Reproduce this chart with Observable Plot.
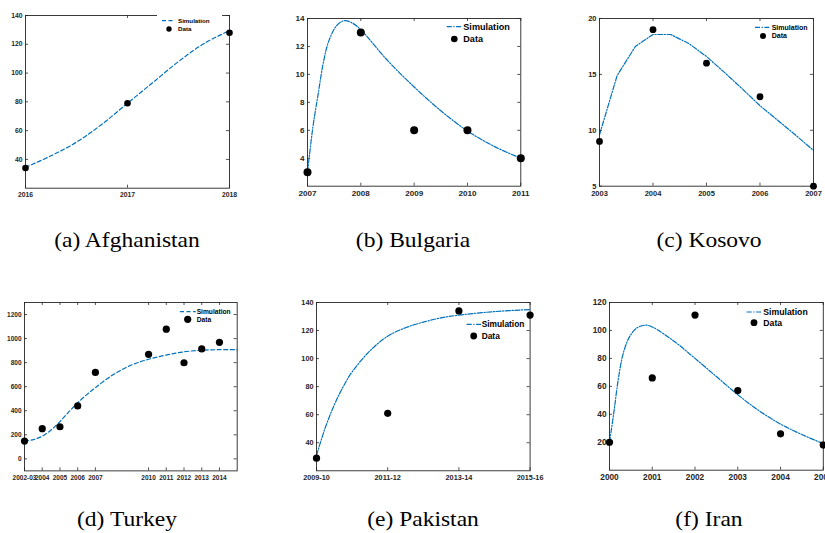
<!DOCTYPE html>
<html><head><meta charset="utf-8">
<script src="https://cdn.jsdelivr.net/npm/d3@7"></script>
<script src="https://cdn.jsdelivr.net/npm/@observablehq/plot@0.6"></script>
<style>
body{margin:0;background:#fff;overflow:hidden}
#root{position:relative;width:825px;height:533px;overflow:hidden;background:#fff}
.panel{position:absolute}
.cap{position:absolute;font-family:"Liberation Serif","Times New Roman",serif;font-size:21px;line-height:22px;white-space:nowrap;color:#000;transform:translateX(-50%) scaleX(1.12);}
.leg{position:absolute;left:0;top:0;overflow:visible}
</style></head><body><div id="root"></div>
<script>
// ---------- data ----------
const captions = ["(a) Afghanistan","(b) Bulgaria","(c) Kosovo","(d) Turkey","(e) Pakistan","(f) Iran"];

// (a) Afghanistan
const afgYears = [2016, 2017, 2018];
const afgData  = [34, 79, 128];
const afgSimT  = [2016, 2016.25, 2016.5, 2016.75, 2017, 2017.25, 2017.5, 2017.75, 2018];
const afgSimV  = [34.5, 42.5, 52, 64.5, 79, 93.5, 108, 120.5, 129.5];
const afgXTicks = [2016, 2017, 2018];
const afgYTicks = [40, 60, 80, 100, 120, 140];

// (b) Bulgaria
const bulYears = [2007, 2008, 2009, 2010, 2011];
const bulData  = [3, 13, 6, 6, 4];
const bulSimT  = [2007, 2007.1, 2007.2, 2007.3, 2007.4, 2007.55, 2007.7, 2007.85, 2008, 2008.5, 2009, 2009.5, 2010, 2010.5, 2011];
const bulSimV  = [3, 6.2, 8.6, 10.9, 12.4, 13.5, 13.85, 13.65, 13.2, 11.0, 9.1, 7.4, 5.95, 4.85, 4.0];
const bulXTicks = [2007, 2008, 2009, 2010, 2011];
const bulYTicks = [4, 6, 8, 10, 12, 14];

// (c) Kosovo
const kosYears = [2003, 2004, 2005, 2006, 2007];
const kosData  = [9, 19, 16, 13, 5];
const kosSimT  = [2003, 2003.33, 2003.67, 2004, 2004.33, 2004.67, 2005, 2005.33, 2005.67, 2006, 2006.33, 2006.67, 2007];
const kosSimV  = [9.6, 14.9, 17.5, 18.57, 18.57, 17.76, 16.6, 15.2, 13.7, 12.2, 10.9, 9.55, 8.2];
const kosXTicks = [2003, 2004, 2005, 2006, 2007];
const kosYTicks = [5, 10, 15, 20];

// (d) Turkey
const turYears = [2003, 2004, 2005, 2006, 2007, 2010, 2011, 2012, 2013, 2014];
const turData  = [148, 251, 267, 440, 719, 869, 1078, 799, 914, 969];
const turSimT  = [2003, 2003.5, 2004, 2004.5, 2005, 2005.5, 2006, 2006.5, 2007, 2008, 2009, 2010, 2011, 2012, 2013, 2014, 2015];
const turSimV  = [148, 160, 188, 240, 310, 390, 465, 532, 592, 700, 778, 828, 863, 890, 903, 908, 907];
const turXTicks = [2003, 2004, 2005, 2006, 2007, 2010, 2011, 2012, 2013, 2014];
const turXLabels = ["2002-03", "2004", "2005", "2006", "2007", "2010", "2011", "2012", "2013", "2014"];
const turYTicks = [0, 200, 400, 600, 800, 1000, 1200];

// (e) Pakistan (categorical periods, equally spaced)
const pakPeriods = ["2009-10", "2011-12", "2013-14", "2015-16"];
const pakData  = [29, 61, 134, 131];
const pakSimT  = [0, 0.125, 0.25, 0.375, 0.5, 0.75, 1, 1.25, 1.5, 1.75, 2, 2.5, 3];
const pakSimV  = [31, 51, 67, 80, 90.5, 105.5, 116, 122, 126, 129, 131, 133.5, 135];
const pakYTicks = [40, 60, 80, 100, 120, 140];

// (f) Iran
const iraYears = [2000, 2001, 2002, 2003, 2004, 2005];
const iraData  = [20, 66, 111, 57, 26, 18];
const iraSimT  = [2000, 2000.1, 2000.2, 2000.3, 2000.4, 2000.5, 2000.65, 2000.85, 2001, 2001.5, 2002, 2002.5, 2003, 2003.5, 2004, 2004.5, 2005];
const iraSimV  = [20, 41, 64, 81, 91, 97, 102, 103.8, 102.5, 92.5, 80, 67, 54, 42.5, 33, 25.5, 19];
const iraXTicks = [2000, 2001, 2002, 2003, 2004, 2005];
const iraYTicks = [20, 40, 60, 80, 100, 120];

// ---------- layout ----------
const BLUE = "#0072BD";
const DASH = "4,2.5";
const DASHDOT = "5,1.6,1.2,1.6";
const yearFmt = d => String(d);

const panels = [
  {fx0:25, fx1:229, fy0:15, fy1:187.7, xd:[2016,2018], yd:[20,140], xt:afgXTicks, xf:yearFmt, yt:afgYTicks,
   dt:afgYears, dv:afgData, st:afgSimT, sv:afgSimV, dash:DASH, curve:"catmull-rom", fs:6.8, r:3.3,
   leg:{x1:162,x2:175,xd:169,xt:178,ys:20.7,yd:29,fs:6.2,r:2.7,bg:[157,12,222,34]}},
  {fx0:306.7, fx1:520, fy0:18.3, fy1:186, xd:[2007,2011], yd:[2,14], xt:bulXTicks, xf:yearFmt, yt:bulYTicks,
   dt:bulYears, dv:bulData, st:bulSimT, sv:bulSimV, dash:DASHDOT, curve:"catmull-rom", fs:8.1, r:4,
   leg:{x1:446.7,x2:462.3,xd:454.3,xt:463.3,ys:26.7,yd:39,fs:9.1,r:3.3}},
  {fx0:599.3, fx1:813.3, fy0:18.3, fy1:186, xd:[2003,2007], yd:[5,20], xt:kosXTicks, xf:yearFmt, yt:kosYTicks,
   dt:kosYears, dv:kosData, st:kosSimT, sv:kosSimV, dash:DASHDOT, curve:"linear", fs:7.5, r:3.4,
   leg:{x1:755,x2:770.7,xd:763,xt:771.7,ys:27.3,yd:36,fs:7,r:3}},
  {fx0:24, fx1:236.7, fy0:302.3, fy1:470.7, xd:[2003,2015], yd:[-100,1300], xt:turXTicks, xf:(d => turXLabels[turXTicks.indexOf(d)]), yt:turYTicks,
   dt:turYears, dv:turData, st:turSimT, sv:turSimV, dash:DASH, curve:"catmull-rom", fs:6.5, r:3.6,
   leg:{x1:180,x2:195.7,xd:187.7,xt:196.7,ys:311.7,yd:319.3,fs:6.65,r:3.6}},
  {fx0:315.7, fx1:529.3, fy0:301.7, fy1:470, xd:[0,3], yd:[20,140], xt:[0,1,2,3], xf:(d => pakPeriods[d]), yt:pakYTicks,
   dt:[0,1,2,3], dv:pakData, st:pakSimT, sv:pakSimV, dash:DASHDOT, curve:"catmull-rom", fs:7.3, r:3.6,
   leg:{x1:466.7,x2:481,xd:473.7,xt:481.7,ys:324.3,yd:336,fs:8.35,r:3.4}},
  {fx0:608.7, fx1:822.5, fy0:302.3, fy1:470, xd:[2000,2005], yd:[0,120], xt:iraXTicks, xf:yearFmt, yt:iraYTicks,
   dt:iraYears, dv:iraData, st:iraSimT, sv:iraSimV, dash:DASHDOT, curve:"catmull-rom", fs:8.3, r:3.6,
   leg:{x1:746.7,x2:762.7,xd:754,xt:763.3,ys:312,yd:322.7,fs:8.7,r:3.4}}
];

const capPos = [[127,229],[413,229],[709,229],[127,508],[423,508],[709,508]];

const root = document.getElementById("root");
const mL = 32, mR = 14, mT = 8, mB = 22;

panels.forEach((c, i) => {
  const W = c.fx1 - c.fx0, H = c.fy1 - c.fy0;
  const sim = c.st.map((t, k) => ({t, v: c.sv[k]}));
  const pts = c.dt.map((t, k) => ({t, v: c.dv[k]}));
  const axisColor = "#262626";
  const chart = Plot.plot({
    width: W + mL + mR, height: H + mT + mB,
    marginLeft: mL, marginRight: mR, marginTop: mT, marginBottom: mB,
    x: {domain: c.xd, label: null}, y: {domain: c.yd, label: null},
    style: {fontFamily: "'Liberation Sans', Arial, sans-serif", fontSize: c.fs + "px", fontWeight: "bold",
            color: axisColor, background: "transparent", overflow: "visible"},
    marks: [
      Plot.line(sim, {x: "t", y: "v", stroke: BLUE, strokeWidth: 1.2, strokeDasharray: c.dash, curve: c.curve}),
      Plot.frame({stroke: axisColor, strokeWidth: 0.9}),
      Plot.ruleX(c.xt, {insetTop: H - 3, stroke: axisColor, strokeWidth: 0.8}),
      Plot.ruleX(c.xt, {insetBottom: H - 3, stroke: axisColor, strokeWidth: 0.8}),
      Plot.ruleY(c.yt, {insetRight: W - 3, stroke: axisColor, strokeWidth: 0.8}),
      Plot.ruleY(c.yt, {insetLeft: W - 3, stroke: axisColor, strokeWidth: 0.8}),
      Plot.axisX({ticks: c.xt, tickSize: 0, tickPadding: 4, tickFormat: c.xf, label: null}),
      Plot.axisY({ticks: c.yt, tickSize: 0, tickPadding: 3, tickFormat: d => String(d), label: null}),
      Plot.dot(pts, {x: "t", y: "v", r: c.r, fill: "black", stroke: "none"})
    ]
  });
  chart.classList.add("panel");
  chart.style.left = (c.fx0 - mL) + "px";
  chart.style.top = (c.fy0 - mT) + "px";
  root.appendChild(chart);

  // legend overlay
  const L = c.leg;
  const svg = d3.create("svg").attr("class", "leg").attr("width", 825).attr("height", 533)
    .style("position", "absolute").style("left", "0px").style("top", "0px");
  if (L.bg) svg.append("rect").attr("x", L.bg[0]).attr("y", L.bg[1]).attr("width", L.bg[2] - L.bg[0]).attr("height", L.bg[3] - L.bg[1]).attr("fill", "#fff");
  svg.append("line").attr("x1", L.x1).attr("x2", L.x2).attr("y1", L.ys).attr("y2", L.ys)
    .attr("stroke", BLUE).attr("stroke-width", 1.2).attr("stroke-dasharray", c.dash);
  svg.append("circle").attr("cx", L.xd).attr("cy", L.yd).attr("r", L.r).attr("fill", "#000");
  const tx = svg.append("g").attr("font-family", "'Liberation Sans', Arial, sans-serif").attr("font-weight", "bold").attr("font-size", L.fs);
  tx.append("text").attr("x", L.xt).attr("y", L.ys).attr("dy", "0.35em").text("Simulation");
  tx.append("text").attr("x", L.xt).attr("y", L.yd).attr("dy", "0.35em").text("Data");
  root.appendChild(svg.node());

  const cap = document.createElement("div");
  cap.className = "cap";
  cap.style.left = capPos[i][0] + "px";
  cap.style.top = capPos[i][1] + "px";
  cap.textContent = captions[i];
  root.appendChild(cap);
});
</script></body></html>
